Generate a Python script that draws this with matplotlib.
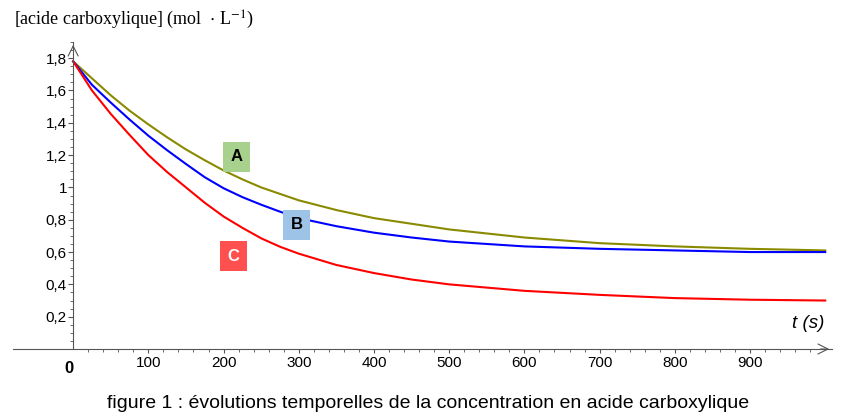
import matplotlib
matplotlib.use("Agg")
import matplotlib.pyplot as plt
from matplotlib.ticker import MultipleLocator, FixedLocator

plt.rcParams["mathtext.fontset"] = "stix"

# values
t = [0, 25, 50, 75, 100, 125, 150, 175, 200, 225, 250, 275, 300, 350, 400, 450, 500,
     600, 700, 800, 900, 1000]
conc_A = [1.78, 1.675, 1.57, 1.475, 1.39, 1.31, 1.235, 1.168, 1.105, 1.05, 1.00, 0.96,
          0.92, 0.86, 0.81, 0.775, 0.74, 0.69, 0.655, 0.635, 0.62, 0.61]
conc_B = [1.78, 1.635, 1.525, 1.42, 1.32, 1.23, 1.145, 1.063, 0.995, 0.94, 0.893, 0.85,
          0.81, 0.76, 0.72, 0.69, 0.665, 0.635, 0.62, 0.61, 0.60, 0.60]
conc_C = [1.78, 1.60, 1.455, 1.325, 1.20, 1.095, 1.00, 0.905, 0.82, 0.75, 0.685, 0.633,
          0.59, 0.52, 0.47, 0.43, 0.40, 0.36, 0.335, 0.315, 0.305, 0.30]

xticks = [100, 200, 300, 400, 500, 600, 700, 800, 900]
yticks = [0.2, 0.4, 0.6, 0.8, 1.0, 1.2, 1.4, 1.6, 1.8]
ylabels = ["0,2", "0,4", "0,6", "0,8", "1", "1,2", "1,4", "1,6", "1,8"]

axis_col = "#555555"

fig = plt.figure(figsize=(8.65, 4.2), dpi=100)
ax = fig.add_axes([13 / 865, 1 - 349 / 420, 819 / 865, 307 / 420])
ax.set_xlim(-80, 1009)
ax.set_ylim(0, 1.9)

ax.plot(t, conc_A, color="#8a8a00", lw=1.5)
ax.plot(t, conc_B, color="#0000ff", lw=1.5)
ax.plot(t, conc_C, color="#ff0000", lw=1.5)

# axes drawn through the origin
for s in ["top", "right"]:
    ax.spines[s].set_visible(False)
ax.spines["left"].set_position(("data", 0))
ax.spines["bottom"].set_position(("data", 0))
ax.spines["left"].set_color(axis_col)
ax.spines["bottom"].set_color(axis_col)

ax.xaxis.set_major_locator(FixedLocator(xticks))
ax.xaxis.set_minor_locator(FixedLocator([v for v in range(20, 1000, 20) if v % 100]))
ax.yaxis.set_major_locator(FixedLocator(yticks))
ax.yaxis.set_minor_locator(MultipleLocator(0.05))
ax.set_xticklabels([str(v) for v in xticks])
ax.set_yticklabels(ylabels)
ax.tick_params(axis="x", which="major", direction="out", length=3, color=axis_col,
               labelsize=11, pad=2)
ax.tick_params(axis="y", which="major", direction="out", length=3.5, color=axis_col,
               labelsize=11, pad=1)
ax.tick_params(axis="both", which="minor", direction="out", length=2, color=axis_col)
for lab in ax.get_xticklabels() + ax.get_yticklabels():
    lab.set_family("Liberation Sans")

# arrow heads
ax.annotate("", xy=(1009, 0), xytext=(990, 0),
            arrowprops=dict(arrowstyle="->", color=axis_col, lw=0.8, mutation_scale=18))
ax.annotate("", xy=(0, 1.9), xytext=(0, 1.85),
            arrowprops=dict(arrowstyle="->", color=axis_col, lw=0.8, mutation_scale=18))

ax.text(-5, -0.12, "0", ha="center", va="center", fontsize=12, fontweight="bold",
        family="Liberation Sans")

# curve labels
box = dict(boxstyle="square,pad=0.45", ec="none")
ax.text(217, 1.19, "A", ha="center", va="center", fontsize=12, fontweight="bold",
        family="Liberation Sans", bbox=dict(box, fc="#a9d18e"))
ax.text(297, 0.77, "B", ha="center", va="center", fontsize=12, fontweight="bold",
        family="Liberation Sans", bbox=dict(box, fc="#9dc3e6"))
ax.text(213, 0.575, "C", ha="center", va="center", fontsize=12, fontweight="bold",
        color="white", family="Liberation Sans", bbox=dict(box, fc="#ff5050"))

ax.text(978, 0.155, "t (s)", ha="center", va="center", fontsize=13.5, style="italic",
        family="Liberation Sans")

fig.text(14 / 865, 1 - 20 / 420, r"[acide carboxylique] (mol  $\cdot$ L$^{-1}$)",
         ha="left", va="center", fontsize=13, family="Liberation Serif")
fig.text(428 / 865, 1 - 403 / 420,
         "figure 1 : évolutions temporelles de la concentration en acide carboxylique",
         ha="center", va="center", fontsize=14, family="Liberation Sans")

fig.savefig("out.png", dpi=100)
